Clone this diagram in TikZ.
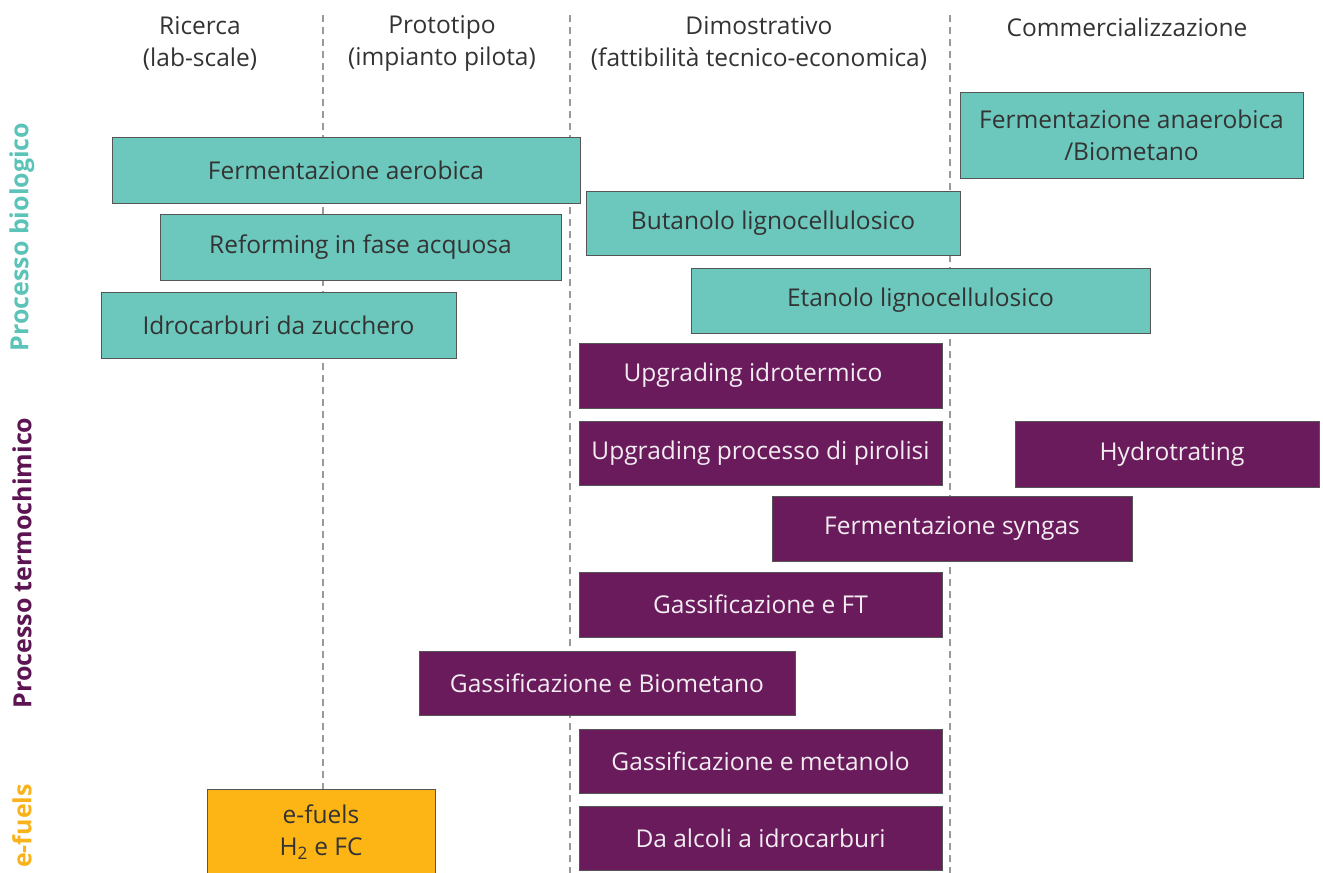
\documentclass[tikz,border=0pt]{standalone}
\usepackage{fontspec}
\setmainfont{Open Sans}
\definecolor{teal1}{HTML}{6CC8BD}
\definecolor{purp}{HTML}{6A1B5C}
\definecolor{orng}{HTML}{FDB515}
\definecolor{txtg}{HTML}{333333}
\definecolor{bord}{HTML}{555555}
\definecolor{dashg}{HTML}{9A9A9A}
\definecolor{tealtxt}{HTML}{5CC3B8}
\definecolor{purptxt}{HTML}{5C1552}
\definecolor{orngtxt}{HTML}{F9B21A}
\begin{document}
\begin{tikzpicture}[x=1pt,y=-1pt,
  boxbase/.style={draw=bord, line width=1pt, rectangle, inner sep=0pt, align=center, font=\fontsize{24.5}{32}\selectfont},
  biobox/.style={boxbase, fill=teal1, text=txtg},
  thermbox/.style={boxbase, fill=purp, text=white!92!purp},
  efbox/.style={boxbase, fill=orng, text=txtg},
  hdr/.style={align=center, text=txtg, font=\fontsize{24.5}{32}\selectfont, inner sep=0pt},
  side/.style={rotate=90, font=\bfseries\fontsize{25}{28}\selectfont, inner sep=0pt},
  phase/.style={draw=dashg, line width=1.3pt, dash pattern=on 7pt off 5pt}]
\useasboundingbox (0,0) rectangle (1323,873);
\newcommand{\bx}[7]{%
  \node[#6, minimum width={#4-#2}, minimum height={#5-#3}] (#1) at ({(#2+#4)/2},{(#3+#5)/2}) {#7};}
% phase separators
\coordinate (s1t) at (323,15); \coordinate (s1b) at (323,873);
\coordinate (s2t) at (570,15); \coordinate (s2b) at (570,873);
\coordinate (s3t) at (950,15); \coordinate (s3b) at (950,873);
\draw[phase] (s1t) -- (s1b);
\draw[phase] (s2t) -- (s2b);
\draw[phase] (s3t) -- (s3b);
% headers
\node[hdr] (h1) at (200,43) {Ricerca\\(lab-scale)};
\node[hdr] (h2) at (442,43) {Prototipo\\(impianto pilota)};
\node[hdr] (h3) at (759,43) {Dimostrativo\\(fattibilità tecnico-economica)};
\node[hdr] (h4) at (1127,27) {Commercializzazione};
% side labels
\node[side, text=tealtxt] (l1) at (22,237) {Processo biologico};
\node[side, text=purptxt] (l2) at (22,563) {Processo termochimico};
\node[side, text=orngtxt] (l3) at (22,826) {e-fuels};
% biological
\bx{b1}{960}{92}{1303}{178}{biobox}{Fermentazione anaerobica\\/Biometano}
\bx{b2}{112}{137}{580}{203}{biobox}{Fermentazione aerobica}
\bx{b3}{586}{191}{960}{255}{biobox}{Butanolo lignocellulosico}
\bx{b4}{160}{214}{561}{280}{biobox}{Reforming in fase acquosa}
\bx{b5}{691}{268}{1150}{333}{biobox}{Etanolo lignocellulosico}
\bx{b6}{101}{292}{456}{358}{biobox}{Idrocarburi da zucchero}
% thermochemical
\bx{t1}{579}{343}{942}{408}{thermbox}{Upgrading idrotermico\hspace*{15pt}}
\bx{t2}{579}{421}{942}{485}{thermbox}{Upgrading processo di pirolisi}
\bx{t3}{1015}{421}{1319}{487}{thermbox}{\hspace*{10pt}Hydrotrating}
\bx{t4}{772}{496}{1132}{561}{thermbox}{Fermentazione syngas}
\bx{t5}{579}{572}{942}{637}{thermbox}{Gassificazione e FT}
\bx{t6}{419}{651}{795}{715}{thermbox}{Gassificazione e Biometano}
\bx{t7}{579}{729}{942}{793}{thermbox}{Gassificazione e metanolo}
\bx{t8}{579}{806}{942}{870}{thermbox}{Da alcoli a idrocarburi}
% e-fuels
\bx{e1}{207}{789}{435}{875}{efbox}{e-fuels\\H\textsubscript{2} e FC}
\end{tikzpicture}
\end{document}
